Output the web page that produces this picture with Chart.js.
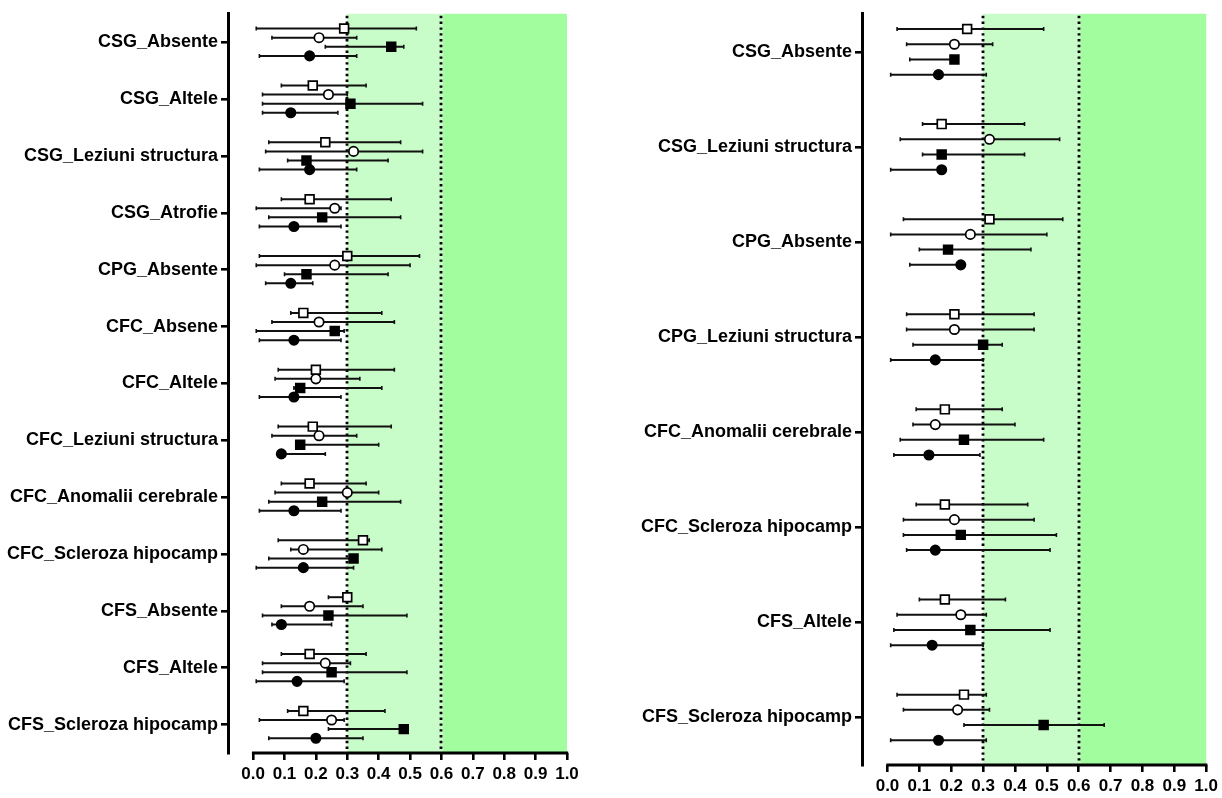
<!DOCTYPE html>
<html>
<head>
<meta charset="utf-8">
<script src="https://cdn.jsdelivr.net/npm/chart.js@4"></script>
<style>
  html, body { margin:0; padding:0; background:#fff; }
  #wrap { position:relative; width:1222px; height:798px; }
  canvas { position:absolute; top:0; }
  #left { left:0; }
  #right { left:600px; }
</style>
</head>
<body>
<div id="wrap">
  <canvas id="left" width="600" height="798"></canvas>
  <canvas id="right" width="622" height="798"></canvas>
</div>
<script>
// ---- data ----
const xTicks = [0.0, 0.1, 0.2, 0.3, 0.4, 0.5, 0.6, 0.7, 0.8, 0.9, 1.0];
const bandEdges = [0.3, 0.605, 1.0];
const cutLines = [0.3, 0.6];

const leftCategories = [
  "CSG_Absente", "CSG_Altele", "CSG_Leziuni structura", "CSG_Atrofie", "CPG_Absente",
  "CFC_Absene", "CFC_Altele", "CFC_Leziuni structura", "CFC_Anomalii cerebrale",
  "CFC_Scleroza hipocamp", "CFS_Absente", "CFS_Altele", "CFS_Scleroza hipocamp"
];
const rightCategories = [
  "CSG_Absente", "CSG_Leziuni structura", "CPG_Absente", "CPG_Leziuni structura",
  "CFC_Anomalii cerebrale", "CFC_Scleroza hipocamp", "CFS_Altele", "CFS_Scleroza hipocamp"
];

// left panel: estimate + [low, high] per series
const leftOpenSquare = [0.29, 0.19, 0.23, 0.18, 0.30, 0.16, 0.20, 0.19, 0.18, 0.35, 0.30, 0.18, 0.16];
const leftOpenSquareCI = [[0.01,0.52],[0.09,0.36],[0.05,0.47],[0.09,0.44],[0.02,0.53],[0.12,0.41],[0.08,0.45],[0.08,0.44],[0.09,0.36],[0.08,0.37],[0.24,0.31],[0.09,0.36],[0.11,0.42]];
const leftOpenCircle = [0.21, 0.24, 0.32, 0.26, 0.26, 0.21, 0.20, 0.21, 0.30, 0.16, 0.18, 0.23, 0.25];
const leftOpenCircleCI = [[0.06,0.33],[0.03,0.30],[0.04,0.54],[0.01,0.28],[0.01,0.50],[0.06,0.45],[0.07,0.34],[0.06,0.33],[0.07,0.40],[0.12,0.41],[0.09,0.35],[0.03,0.31],[0.02,0.29]];
const leftFilledSquare = [0.44, 0.31, 0.17, 0.22, 0.17, 0.26, 0.15, 0.15, 0.22, 0.32, 0.24, 0.25, 0.48];
const leftFilledSquareCI = [[0.23,0.48],[0.03,0.54],[0.11,0.43],[0.05,0.47],[0.10,0.43],[0.01,0.29],[0.13,0.41],[0.14,0.40],[0.05,0.47],[0.05,0.33],[0.03,0.49],[0.03,0.49],[0.24,0.49]];
const leftFilledCircle = [0.18, 0.12, 0.18, 0.13, 0.12, 0.13, 0.13, 0.09, 0.13, 0.16, 0.09, 0.14, 0.20];
const leftFilledCircleCI = [[0.02,0.33],[0.03,0.27],[0.02,0.33],[0.02,0.28],[0.04,0.19],[0.02,0.28],[0.02,0.28],[0.09,0.23],[0.02,0.28],[0.01,0.32],[0.06,0.25],[0.01,0.29],[0.05,0.35]];

// right panel
const rightOpenSquare = [0.25, 0.17, 0.32, 0.21, 0.18, 0.18, 0.18, 0.24];
const rightOpenSquareCI = [[0.03,0.49],[0.11,0.43],[0.05,0.55],[0.06,0.46],[0.09,0.36],[0.09,0.44],[0.10,0.37],[0.03,0.31]];
const rightOpenCircle = [0.21, 0.32, 0.26, 0.21, 0.15, 0.21, 0.23, 0.22];
const rightOpenCircleCI = [[0.06,0.33],[0.04,0.54],[0.01,0.50],[0.06,0.46],[0.08,0.40],[0.05,0.46],[0.03,0.31],[0.05,0.32]];
const rightFilledSquare = [0.21, 0.17, 0.19, 0.30, 0.24, 0.23, 0.26, 0.49];
const rightFilledSquareCI = [[0.07,0.21],[0.11,0.43],[0.10,0.45],[0.08,0.36],[0.04,0.49],[0.05,0.53],[0.02,0.51],[0.24,0.68]];
const rightFilledCircle = [0.16, 0.17, 0.23, 0.15, 0.13, 0.15, 0.14, 0.16];
const rightFilledCircleCI = [[0.01,0.31],[0.01,0.17],[0.07,0.23],[0.01,0.30],[0.02,0.29],[0.06,0.51],[0.01,0.30],[0.01,0.31]];

// ---- drawing ----
const FONT = 'Arial, "Liberation Sans", sans-serif';
const offsets = [-0.24, -0.08, 0.08, 0.24];
const styles = [
  {pointStyle:"rect", fill:"#fff", r:6.2},
  {pointStyle:"circle", fill:"#fff", r:4.7},
  {pointStyle:"rect", fill:"#000", r:6.2},
  {pointStyle:"circle", fill:"#000", r:4.7}
];

const forestPlugin = {
  id: "forest",
  beforeDatasetsDraw(chart){
    const ctx = chart.ctx, a = chart.chartArea, x = chart.scales.x;
    ctx.save();
    // shaded zones
    ctx.fillStyle = "#c8fcc8";
    ctx.fillRect(x.getPixelForValue(bandEdges[0]), a.top, x.getPixelForValue(bandEdges[1]) - x.getPixelForValue(bandEdges[0]), a.bottom - a.top);
    ctx.fillStyle = "#a2fd9e";
    ctx.fillRect(x.getPixelForValue(bandEdges[1]), a.top, x.getPixelForValue(bandEdges[2]) - x.getPixelForValue(bandEdges[1]), a.bottom - a.top);
    // dotted cut-offs
    ctx.strokeStyle = "#000";
    ctx.lineWidth = 2.8;
    ctx.setLineDash([2.4, 3.4]);
    cutLines.forEach(v => {
      const px = Math.round(x.getPixelForValue(v));
      ctx.beginPath();
      ctx.moveTo(px, a.top + 2);
      ctx.lineTo(px, a.bottom);
      ctx.stroke();
    });
    ctx.setLineDash([]);
    // error bars
    chart.data.datasets.forEach((ds, i) => {
      const meta = chart.getDatasetMeta(i);
      meta.data.forEach((pt, j) => {
        const ci = ds.ci[j];
        const x1 = x.getPixelForValue(ci[0]), x2 = x.getPixelForValue(ci[1]);
        ctx.strokeStyle = "#111";
        ctx.lineWidth = 2;
        ctx.beginPath();
        ctx.moveTo(x1, pt.y); ctx.lineTo(x2, pt.y);
        ctx.stroke();
        ctx.lineWidth = 1.6;
        ctx.beginPath();
        ctx.moveTo(x1, pt.y - 2); ctx.lineTo(x1, pt.y + 2);
        ctx.moveTo(x2, pt.y - 2); ctx.lineTo(x2, pt.y + 2);
        ctx.stroke();
      });
    });
    ctx.restore();
  },
  afterDraw(chart){
    // x axis line only from 0.0 to 1.0
    const ctx = chart.ctx, a = chart.chartArea, x = chart.scales.x;
    ctx.save();
    ctx.strokeStyle = "#000";
    ctx.lineWidth = 3;
    ctx.beginPath();
    ctx.moveTo(x.getPixelForValue(xTicks[0]) - 1.2, a.bottom);
    ctx.lineTo(x.getPixelForValue(xTicks[xTicks.length - 1]) + 1.2, a.bottom);
    ctx.stroke();
    ctx.restore();
  }
};

function makeChart(id, cats, series, cis, yMin, yMax, yWidth, xHeight, padRight){
  const datasets = series.map((vals, s) => ({
    label: "S" + (s + 1),
    data: vals.map((v, i) => ({x: v, y: i + offsets[s]})),
    ci: cis[s],
    pointStyle: styles[s].pointStyle,
    pointRadius: styles[s].r,
    pointHoverRadius: styles[s].r,
    backgroundColor: styles[s].fill,
    borderColor: "#000",
    pointBorderWidth: 1.7,
    showLine: false
  }));
  return new Chart(document.getElementById(id), {
    type: "scatter",
    data: {datasets},
    plugins: [forestPlugin],
    options: {
      responsive: false,
      animation: false,
      layout: {padding: {top: 10, right: padRight, left: 0, bottom: 0}},
      plugins: {legend: {display: false}, tooltip: {enabled: false}},
      scales: {
        x: {
          type: "linear",
          min: -0.08, max: 1.0,
          afterBuildTicks: sc => { sc.ticks = xTicks.map(v => ({value: v})); },
          afterFit: sc => { sc.height = xHeight; },
          border: {display: false},
          grid: {drawOnChartArea: false, drawTicks: true, tickLength: 7, color: "#000", lineWidth: 2.6},
          ticks: {
            color: "#000", padding: 4, maxRotation: 0, autoSkip: false,
            font: {family: FONT, size: 17, weight: "bold"},
            callback: v => Number(v).toFixed(1)
          }
        },
        y: {
          type: "linear",
          reverse: true,
          min: yMin, max: yMax,
          afterBuildTicks: sc => { sc.ticks = cats.map((c, i) => ({value: i})); },
          afterFit: sc => { sc.width = yWidth; },
          border: {display: true, color: "#000", width: 3},
          grid: {drawOnChartArea: false, drawTicks: true, tickLength: 7, color: "#000", lineWidth: 2.6},
          ticks: {
            color: "#000", padding: 3, autoSkip: false,
            font: {family: FONT, size: 18, weight: "bold"},
            callback: v => cats[Math.round(v)] || ""
          }
        }
      }
    }
  });
}

makeChart("left", leftCategories,
  [leftOpenSquare, leftOpenCircle, leftFilledSquare, leftFilledCircle],
  [leftOpenSquareCI, leftOpenCircleCI, leftFilledSquareCI, leftFilledCircleCI],
  -0.5, 12.5, 228, 45, 33);

makeChart("right", rightCategories,
  [rightOpenSquare, rightOpenCircle, rightFilledSquare, rightFilledCircle],
  [rightOpenSquareCI, rightOpenCircleCI, rightFilledSquareCI, rightFilledCircleCI],
  -0.4, 7.5, 262, 33, 15);
</script>
</body>
</html>
